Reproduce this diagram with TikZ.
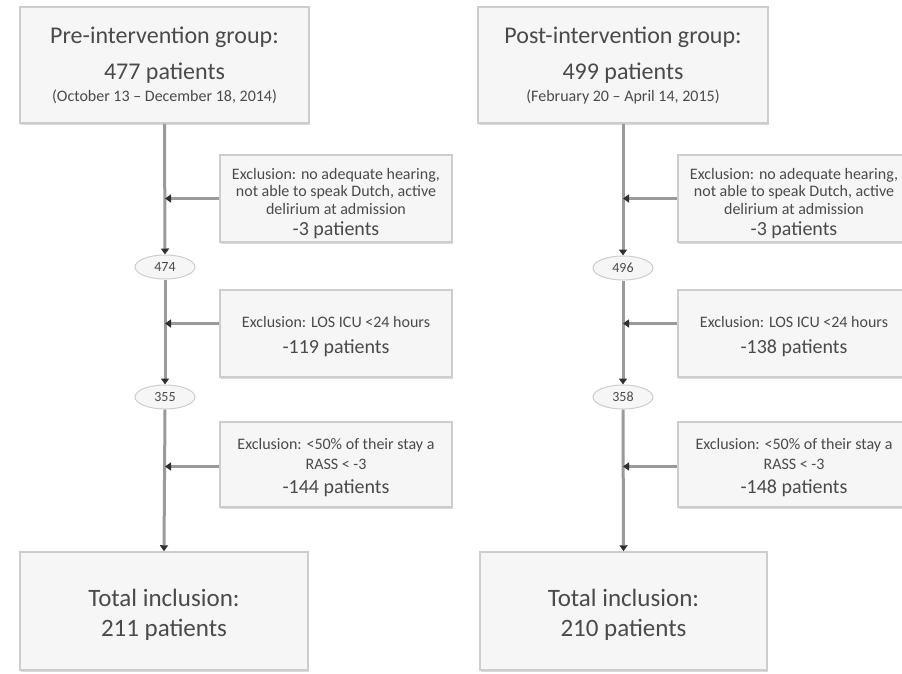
\documentclass[tikz,border=0pt]{standalone}
\usepackage{fontspec}
\setmainfont{Carlito}
\usetikzlibrary{arrows.meta,shapes.geometric,shadows}
\definecolor{boxfill}{HTML}{F6F6F6}
\definecolor{boxborder}{HTML}{CDCDCD}
\definecolor{linecol}{HTML}{9A9A9A}
\definecolor{textcol}{HTML}{4A4A4A}
\definecolor{tipcol}{HTML}{303030}
\newcommand{\fs}[1]{\fontsize{#1}{#1}\selectfont}
\newcommand{\pushdown}[1]{\rule{0pt}{#1}}
\tikzset{
  box/.style={draw=boxborder, fill=boxfill, line width=1.5pt, align=center, inner sep=0pt,
    text=textcol, drop shadow={shadow xshift=1pt, shadow yshift=-1.5pt, fill=black!25, opacity=0.6}},
  topbox/.style={box, minimum width=289pt, minimum height=116pt, font=\fontsize{24}{22}\selectfont},
  exone/.style={box, minimum width=232pt, minimum height=87pt, font=\fontsize{16}{17}\selectfont},
  extwo/.style={box, minimum width=232pt, minimum height=87pt, font=\fontsize{16}{26}\selectfont},
  exthree/.style={box, minimum width=232pt, minimum height=85pt, font=\fontsize{16}{20}\selectfont},
  botbox/.style={box, minimum width=288pt, minimum height=118pt, font=\fontsize{25}{30}\selectfont},
  countnode/.style={ellipse, draw=boxborder, fill=boxfill, line width=1pt, minimum width=60pt,
    minimum height=24pt, inner sep=0pt, text=textcol, font=\fs{14}},
  flow/.style={draw=linecol, line width=3pt, -{Triangle[length=6pt,width=8pt,color=tipcol]}}
}
\begin{document}
\begin{tikzpicture}[x=1pt,y=-1pt]
\useasboundingbox (0,0) rectangle (902,673);
\clip (0,0) rectangle (902,673);
% ---- left column
\node[topbox] (topL) at (164.5,65)
  {\fs{24}Pre-intervention group:\\[14pt]\fs{24}477 patients\\\fs{16}(October 13 -- December 18, 2014)};
\node[exone] (ex1L) at (336,198.5)
  {\fs{16}\pushdown{22pt}Exclusion: no adequate hearing,\\\fs{16}not able to speak Dutch, active\\[1pt]\fs{16}delirium at admission\\[4pt]\fs{20}-3 patients};
\node[countnode] (e1L) at (165,267) {474};
\node[extwo] (ex2L) at (336,333.5)
  {\fs{16}\pushdown{17pt}Exclusion: LOS ICU <24 hours\\\fs{20}-119 patients};
\node[countnode] (e2L) at (165,397) {355};
\node[exthree] (ex3L) at (336,464.5)
  {\fs{16}\pushdown{18pt}Exclusion: <50\% of their stay a\\\fs{16}RASS < -3\\[4pt]\fs{20}-144 patients};
\node[botbox] (botL) at (164,611)
  {\fs{25}\pushdown{25pt}Total inclusion:\\\fs{25}211 patients};
% ---- right column
\node[topbox, minimum width=290pt] (topR) at (623,65)
  {\fs{24}Post-intervention group:\\[14pt]\fs{24}499 patients\\\fs{16}(February 20 -- April 14, 2015)};
\node[exone] (ex1R) at (794,198.5)
  {\fs{16}\pushdown{22pt}Exclusion: no adequate hearing,\\\fs{16}not able to speak Dutch, active\\[1pt]\fs{16}delirium at admission\\[4pt]\fs{20}-3 patients};
\node[countnode] (e1R) at (623,268) {496};
\node[extwo] (ex2R) at (794,333.5)
  {\fs{16}\pushdown{17pt}Exclusion: LOS ICU <24 hours\\\fs{20}-138 patients};
\node[countnode] (e2R) at (623,397) {358};
\node[exthree] (ex3R) at (794,464.5)
  {\fs{16}\pushdown{18pt}Exclusion: <50\% of their stay a\\\fs{16}RASS < -3\\[4pt]\fs{20}-148 patients};
\node[botbox, minimum width=287pt] (botR) at (623.5,611)
  {\fs{25}\pushdown{25pt}Total inclusion:\\\fs{25}210 patients};
% ---- connectors
\foreach \c in {L,R}{
  \draw[flow] (top\c.south) -- (e1\c.north);
  \draw[flow] (e1\c.south) -- (e2\c.north);
  \draw[flow] (e2\c.south) -- (bot\c.north);
  \draw[flow] (ex1\c.west) -- (ex1\c.west -| e1\c.center);
  \draw[flow] ([yshift=10pt]ex2\c.west) -- ([yshift=10pt]ex2\c.west -| e1\c.center);
  \draw[flow] ([yshift=-2pt]ex3\c.west) -- ([yshift=-2pt]ex3\c.west -| e1\c.center);
}
\end{tikzpicture}
\end{document}
